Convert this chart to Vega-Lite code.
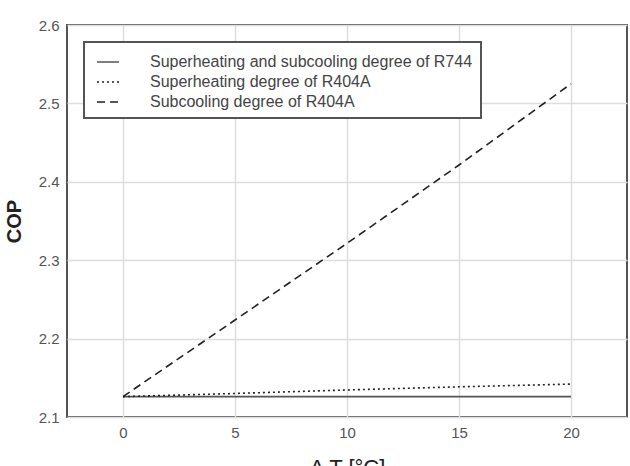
{
  "$schema": "https://vega.github.io/schema/vega-lite/v6.json",
  "autosize": "none",
  "width": 560,
  "height": 392,
  "padding": {"left": 67, "top": 25, "right": 3, "bottom": 49},
  "background": "white",
  "config": {
    "font": "Liberation Sans",
    "view": {"stroke": "#555555", "strokeWidth": 2},
    "axis": {"domain": false, "gridColor": "#dddddd", "gridWidth": 1.5, "tickColor": "#aaaaaa", "labelColor": "#555555", "labelFontSize": 15, "titleColor": "#222222"},
    "legend": {"title": null, "orient": "none", "legendX": 17, "legendY": 17, "fillColor": "white", "strokeColor": "#555555", "strokeWidth": 2, "padding": 8, "labelFontSize": 16, "labelColor": "#444444", "symbolType": "stroke", "symbolSize": 484, "symbolStrokeWidth": 1.6, "rowPadding": 0, "symbolOffset": 4, "labelOffset": 30, "labelLimit": 400}
  },
  "data": {"values": [
    {"dT": 0, "COP": 2.126, "series": "Superheating and subcooling degree of R744"},
    {"dT": 20, "COP": 2.126, "series": "Superheating and subcooling degree of R744"},
    {"dT": 0, "COP": 2.126, "series": "Superheating degree of R404A"},
    {"dT": 5, "COP": 2.130, "series": "Superheating degree of R404A"},
    {"dT": 10, "COP": 2.1345, "series": "Superheating degree of R404A"},
    {"dT": 15, "COP": 2.1385, "series": "Superheating degree of R404A"},
    {"dT": 20, "COP": 2.142, "series": "Superheating degree of R404A"},
    {"dT": 0, "COP": 2.126, "series": "Subcooling degree of R404A"},
    {"dT": 5, "COP": 2.2237, "series": "Subcooling degree of R404A"},
    {"dT": 10, "COP": 2.3215, "series": "Subcooling degree of R404A"},
    {"dT": 15, "COP": 2.4214, "series": "Subcooling degree of R404A"},
    {"dT": 20, "COP": 2.525, "series": "Subcooling degree of R404A"}
  ]},
  "mark": {"type": "line", "strokeWidth": 1.6, "clip": true},
  "encoding": {
    "x": {"field": "dT", "type": "quantitative", "scale": {"domain": [-2.5, 22.5], "nice": false},
      "axis": {"values": [0, 5, 10, 15, 20], "title": "Δ T [°C]", "titleFontSize": 22, "titleFontWeight": "normal", "titleBaseline": "top", "titleY": 40, "labelPadding": 8, "tickSize": 0}},
    "y": {"field": "COP", "type": "quantitative", "scale": {"domain": [2.1, 2.6], "nice": false, "zero": false},
      "axis": {"values": [2.1, 2.2, 2.3, 2.4, 2.5, 2.6], "format": ".1f", "title": "COP", "titleFontSize": 20, "titleFontWeight": "bold", "titleX": -47, "titleY": 196, "titleAngle": -90, "titleBaseline": "alphabetic", "labelPadding": 8, "tickSize": 0}},
    "color": {"field": "series", "type": "nominal", "scale": {"domain": ["Superheating and subcooling degree of R744", "Superheating degree of R404A", "Subcooling degree of R404A"], "range": ["#555555", "#222222", "#222222"]}, "legend": {}},
    "strokeDash": {"field": "series", "type": "nominal",
      "scale": {"domain": ["Superheating and subcooling degree of R744", "Superheating degree of R404A", "Subcooling degree of R404A"], "range": [[1, 0], [2, 3], [8, 5]]},
      "legend": {}}
  }
}
